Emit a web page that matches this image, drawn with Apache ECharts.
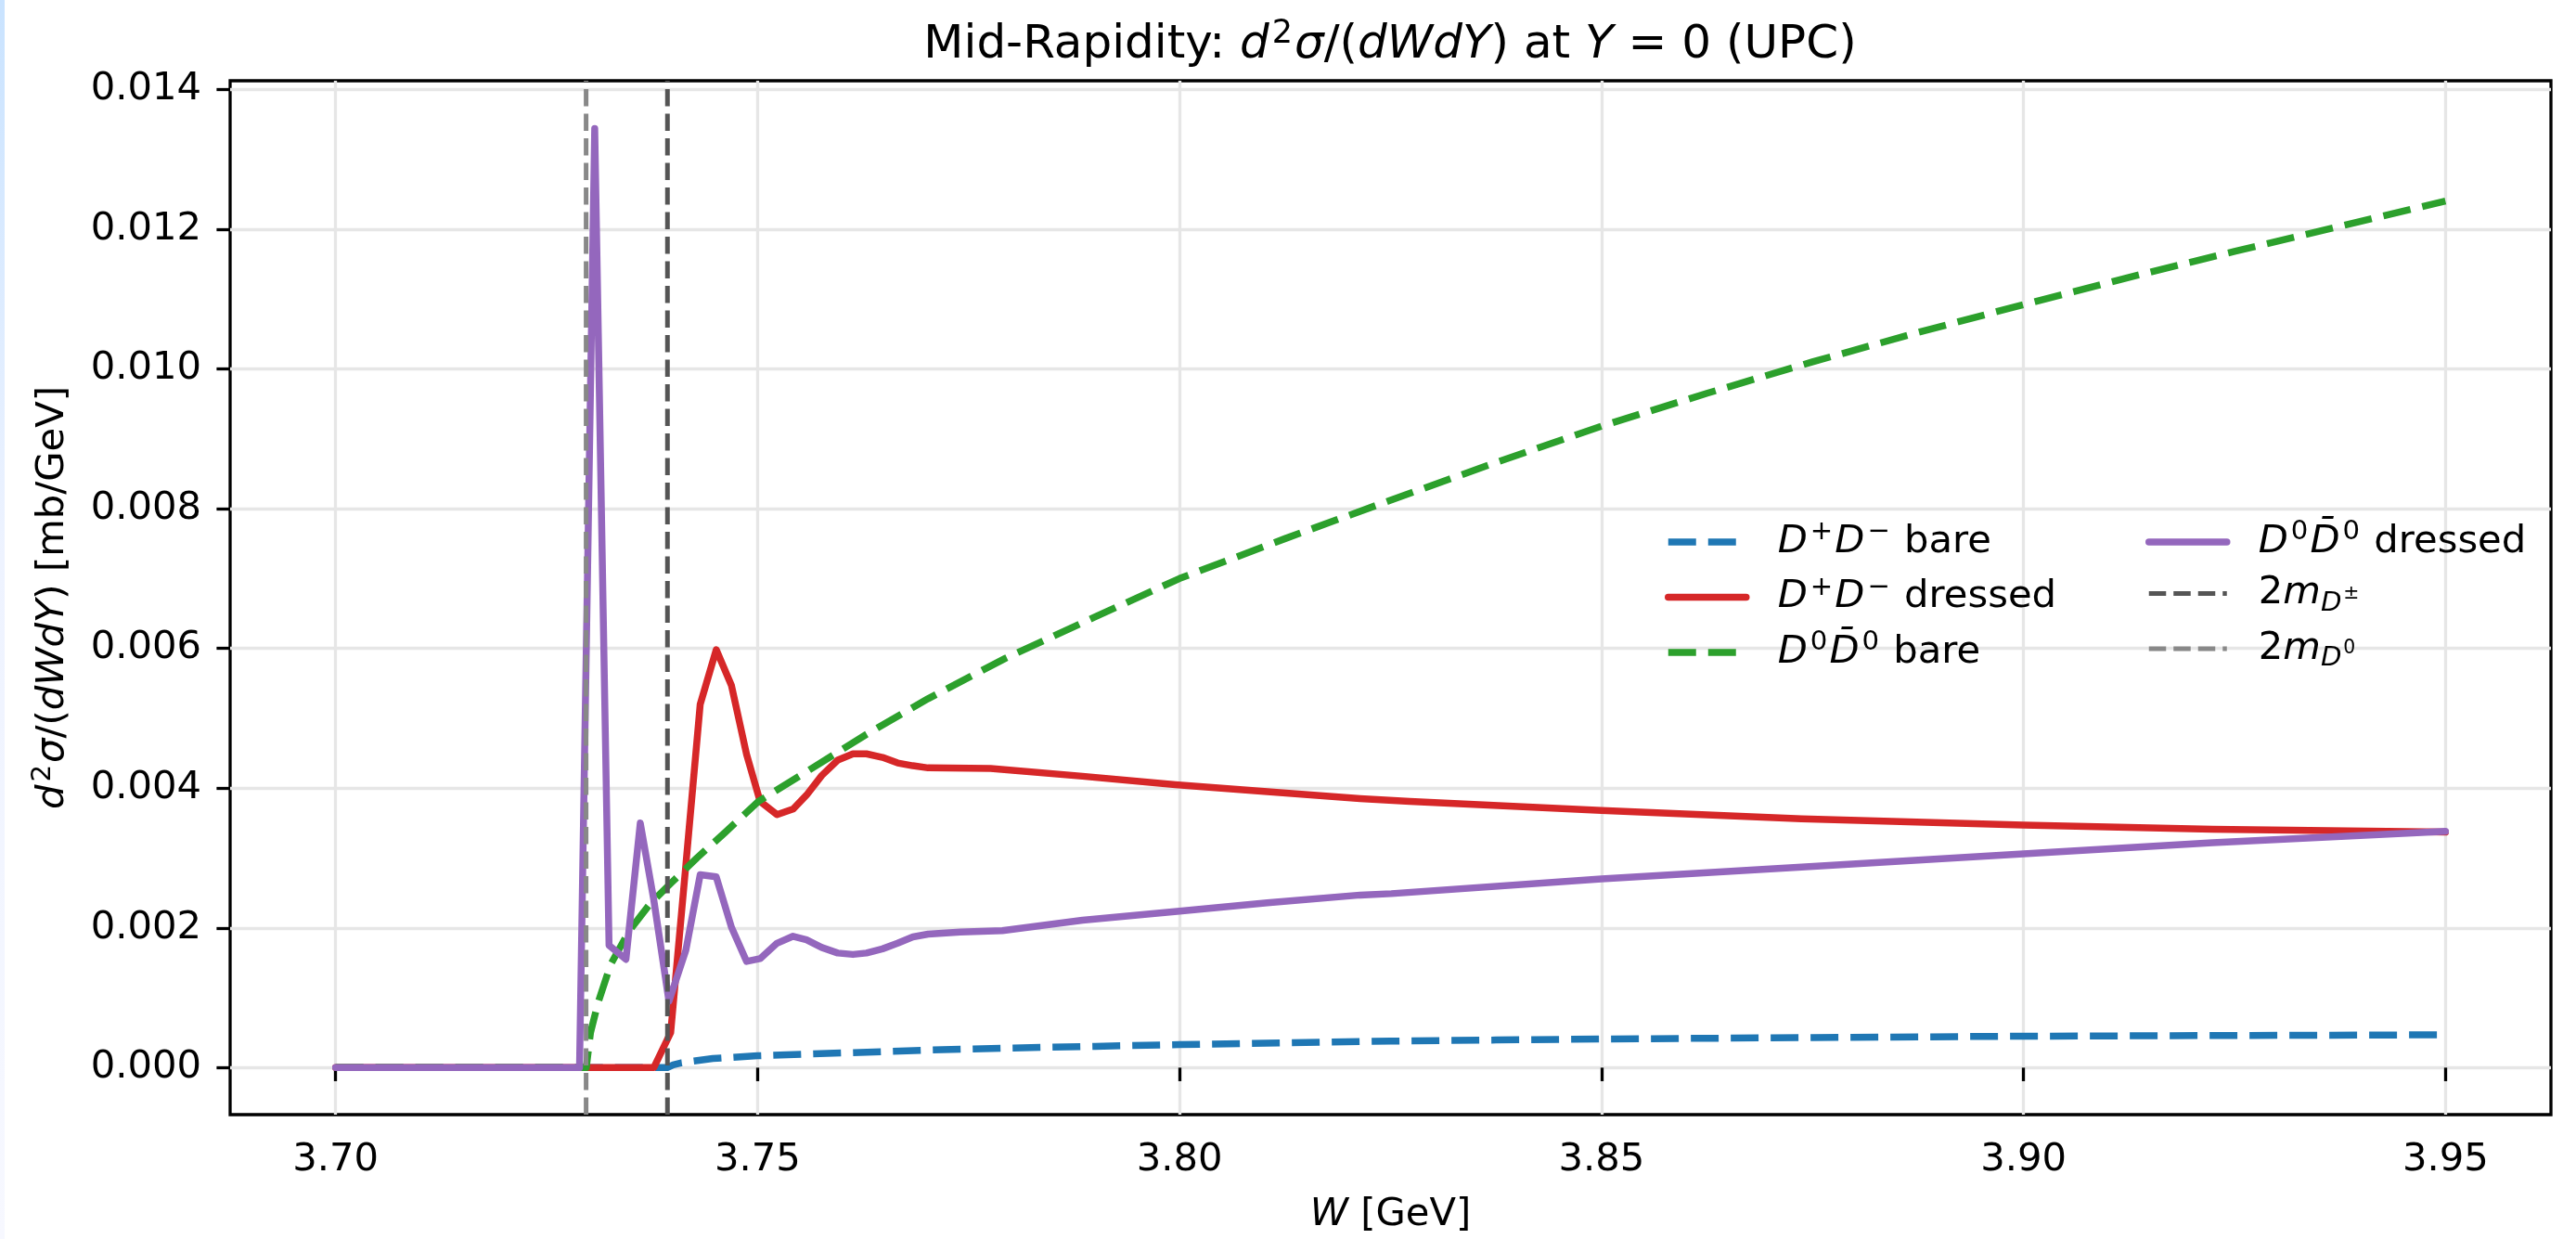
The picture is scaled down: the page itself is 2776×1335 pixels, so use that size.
<!DOCTYPE html>
<html>
<head>
<meta charset="utf-8">
<script src="https://cdn.jsdelivr.net/npm/echarts@6/dist/echarts.min.js"></script>
<style>
html,body{margin:0;padding:0;background:#fff;}
#chart{width:2776px;height:1335px;}
</style>
</head>
<body>
<div id="chart"></div>
<script>
// ---------------- data ----------------
const xTicks = [3.70, 3.75, 3.80, 3.85, 3.90, 3.95];
const yTicks = [0, 0.002, 0.004, 0.006, 0.008, 0.010, 0.012, 0.014];

// thresholds 2 m_D (GeV)
const thrDpm = 3.73932;
const thrD0 = 3.72968;

// D+D- bare  [W (GeV), d2sigma/dWdY (mb/GeV)]
const dpmBare = [
  [3.700,0],[3.7393,0],[3.7400,0.00004],[3.7410,0.00007],[3.7447,0.00013],[3.750,0.00017],
  [3.760,0.00021],[3.770,0.00025],[3.780,0.00028],[3.790,0.000305],[3.800,0.00033],
  [3.8125,0.000355],[3.825,0.00038],[3.8375,0.000395],[3.850,0.00041],[3.875,0.00043],
  [3.900,0.00045],[3.925,0.00046],[3.950,0.00047]
];

// D+D- dressed
const dpmDressed = [
  [3.700,0],[3.7377,0],[3.7397,0.0005],[3.7415,0.0029],[3.7432,0.0052],[3.7451,0.00598],
  [3.7469,0.00547],[3.7487,0.00448],[3.7503,0.00381],[3.7523,0.00362],[3.7542,0.0037],
  [3.7558,0.0039],[3.7576,0.00418],[3.7595,0.0044],[3.7613,0.00449],[3.7629,0.00449],
  [3.7648,0.00444],[3.7666,0.00436],[3.7684,0.00432],[3.7702,0.00429],[3.7776,0.00428],
  [3.7885,0.00417],[3.7995,0.00405],[3.8104,0.00395],[3.8214,0.00385],[3.8273,0.00381],
  [3.850,0.00368],[3.8737,0.00356],[3.900,0.00347],[3.9224,0.00341],[3.950,0.00337]
];

// D0 D0bar bare
const d0Bare = [
  [3.700,0],[3.7297,0],[3.7302,0.0005],[3.7311,0.00093],[3.7326,0.00148],[3.7348,0.00196],
  [3.7373,0.00235],[3.7399,0.00266],[3.7428,0.0030],[3.7461,0.00336],[3.7501,0.00381],
  [3.7556,0.00422],[3.7629,0.00477],[3.7702,0.00528],[3.7794,0.00586],[3.790,0.00645],
  [3.800,0.00700],[3.8125,0.00757],[3.825,0.00812],[3.8375,0.00866],[3.850,0.00918],
  [3.8625,0.00965],[3.875,0.01010],[3.8875,0.01052],[3.900,0.01092],[3.9125,0.01131],
  [3.925,0.01168],[3.9375,0.01204],[3.950,0.01240]
];

// D0 D0bar dressed
const d0Dressed = [
  [3.700,0],[3.7289,0],[3.7307,0.01344],[3.7324,0.00175],[3.7344,0.00155],[3.7361,0.0035],
  [3.7377,0.0024],[3.7395,0.00095],[3.7415,0.00168],[3.7432,0.00276],[3.7451,0.00273],
  [3.7469,0.00201],[3.7487,0.00152],[3.7503,0.00156],[3.7523,0.00178],[3.7542,0.00188],
  [3.7558,0.00183],[3.7576,0.00172],[3.7595,0.00164],[3.7613,0.00162],[3.7629,0.00164],
  [3.7648,0.0017],[3.7666,0.00178],[3.7684,0.00187],[3.7702,0.00191],[3.7740,0.00194],
  [3.7790,0.00196],[3.7885,0.00211],[3.800,0.00224],[3.8104,0.00236],[3.8214,0.00247],
  [3.8251,0.00249],[3.850,0.0027],[3.8737,0.00287],[3.900,0.00306],[3.9224,0.00322],
  [3.950,0.00338]
];

// axis extents (matplotlib-style 5% margins)
const X_MIN = 3.6875, X_MAX = 3.9625;
const Y_MIN = -0.0006725, Y_MAX = 0.0141225;

// ---------------- styling ----------------
const FONT = 'DejaVu Sans';
const FS = 41.7;
const LW = 7.5;
const DASH = [30, 13];
const VDASH = [18.5, 8];
const VLW = 5;

const C_BLUE = '#1f77b4', C_RED = '#d62728', C_GREEN = '#2ca02c', C_PURPLE = '#9467bd';
const C_VDPM = '#555555', C_VD0 = '#888888';

function richSet(fs, lh) {
  return {
    n: {fontFamily: FONT, fontSize: fs, lineHeight: lh, color: '#000'},
    i: {fontFamily: FONT, fontSize: fs, lineHeight: lh, color: '#000', fontStyle: 'italic'},
    sup: {fontFamily: FONT, fontSize: fs * 0.7, lineHeight: lh * 0.5, verticalAlign: 'top', color: '#000', padding: [0, 2, 0, 3]},
    sub: {fontFamily: FONT, fontSize: fs * 0.7, lineHeight: lh * 0.46, verticalAlign: 'bottom', color: '#000', fontStyle: 'italic'},
    ssup: {fontFamily: FONT, fontSize: fs * 0.49, lineHeight: lh * 0.4, verticalAlign: 'middle', color: '#000', padding: [0, 0, 0, 2]},
    g: {width: 29, lineHeight: lh}
  };
}

const names = {
  dpmBare: 'D+D- bare', dpmDressed: 'D+D- dressed', d0Bare: 'D0D0bar bare',
  d0Dressed: 'D0D0bar dressed', vDpm: '2m_D±', vD0: '2m_D0'
};
const legendText = {};
legendText[names.dpmBare] = '{g|}{i|D}{sup|+}{i|D}{sup|\u2212}{n| bare}';
legendText[names.dpmDressed] = '{g|}{i|D}{sup|+}{i|D}{sup|\u2212}{n| dressed}';
legendText[names.d0Bare] = '{g|}{i|D}{sup|0}{i|D\u0304}{sup|0}{n| bare}';
legendText[names.d0Dressed] = '{g|}{i|D}{sup|0}{i|D\u0304}{sup|0}{n| dressed}';
legendText[names.vDpm] = '{g|}{n|2}{i|m}{sub|D}{ssup|\u00b1}';
legendText[names.vD0] = '{g|}{n|2}{i|m}{sub|D}{ssup|0}';

function lineSeries(name, data, color, dash, width, cap) {
  return {
    name: name, type: 'line', data: data, symbol: 'none', showSymbol: false,
    animation: false, clip: true,
    lineStyle: {color: color, width: width, type: dash || 'solid', cap: cap || 'butt', join: 'round'},
    itemStyle: {color: color},
    emphasis: {disabled: true}
  };
}

function legendItem(name, color, dash, width) {
  return {name: name, lineStyle: {color: color, width: width, type: dash || 'solid'}, itemStyle: {opacity: 0}};
}

const legendCommon = {
  orient: 'vertical', padding: 0, itemWidth: 84, itemHeight: 50, itemGap: 13.5,
  top: 559, selectedMode: false,
  formatter: function (n) { return legendText[n]; },
  textStyle: {fontFamily: FONT, fontSize: FS, color: '#000', rich: richSet(FS, 50)}
};

const chart = echarts.init(document.getElementById('chart'), null, {renderer: 'canvas'});
chart.setOption({
  backgroundColor: '#ffffff',
  animation: false,
  graphic: [{
    type: 'rect', left: 0, top: 0, z: 100,
    shape: {x: 0, y: 0, width: 5, height: 1335},
    style: {fill: new echarts.graphic.LinearGradient(0, 0, 0, 1, [
      {offset: 0, color: '#c9e3ff'}, {offset: 0.45, color: '#eef3ff'}, {offset: 1, color: '#f7f8ff'}
    ])}
  }],
  title: {
    text: '{n|Mid-Rapidity: }{i|d}{sup|2}{i|\u03c3}{n|/(}{i|dWdY}{n|) at }{i|Y}{n| = 0 (UPC)}',
    left: 1498, top: 19, textAlign: 'center', padding: 0,
    textStyle: {fontFamily: FONT, fontSize: 50, fontWeight: 'normal', color: '#000', rich: richSet(50, 60)}
  },
  grid: {
    left: 248, right: 27, top: 87, bottom: 126, show: true,
    borderColor: '#000', borderWidth: 3.3, backgroundColor: 'transparent', containLabel: false
  },
  legend: [
    Object.assign({}, legendCommon, {left: 1794, data: [
      legendItem(names.dpmBare, C_BLUE, DASH, LW),
      legendItem(names.dpmDressed, C_RED, null, LW),
      legendItem(names.d0Bare, C_GREEN, DASH, LW)
    ]}),
    Object.assign({}, legendCommon, {left: 2312, data: [
      legendItem(names.d0Dressed, C_PURPLE, null, LW),
      legendItem(names.vDpm, C_VDPM, VDASH, VLW),
      legendItem(names.vD0, C_VD0, VDASH, VLW)
    ]})
  ],
  xAxis: {
    type: 'value', min: X_MIN, max: X_MAX,
    name: '{i|W}{n| [GeV]}', nameLocation: 'middle', nameGap: 83,
    nameTextStyle: {fontFamily: FONT, fontSize: FS, color: '#000', rich: richSet(FS, 50)},
    axisLine: {show: false},
    axisTick: {show: true, inside: false, length: 14.6, customValues: xTicks, lineStyle: {color: '#000', width: 3.3}},
    axisLabel: {show: true, customValues: xTicks, margin: 28, fontFamily: FONT, fontSize: FS, color: '#000',
      formatter: function (v) { return v.toFixed(2); }},
    splitLine: {show: true, lineStyle: {color: '#e6e6e6', width: 3.3}}
  },
  yAxis: {
    type: 'value', min: Y_MIN, max: Y_MAX,
    name: '{i|d}{sup|2}{i|\u03c3}{n|/(}{i|dWdY}{n|) [mb/GeV]}', nameLocation: 'middle', nameGap: 166, nameRotate: 90,
    nameTextStyle: {fontFamily: FONT, fontSize: FS, color: '#000', rich: richSet(FS, 50)},
    axisLine: {show: false},
    axisTick: {show: true, inside: false, length: 14.6, customValues: yTicks, lineStyle: {color: '#000', width: 3.3}},
    axisLabel: {show: true, customValues: yTicks, margin: 31, fontFamily: FONT, fontSize: FS, color: '#000',
      formatter: function (v) { return v.toFixed(3); }},
    splitLine: {show: true, lineStyle: {color: '#e6e6e6', width: 3.3}}
  },
  series: [
    lineSeries(names.dpmBare, dpmBare, C_BLUE, DASH, LW),
    lineSeries(names.dpmDressed, dpmDressed, C_RED, null, LW, 'round'),
    lineSeries(names.d0Bare, d0Bare, C_GREEN, DASH, LW),
    lineSeries(names.d0Dressed, d0Dressed, C_PURPLE, null, LW, 'round'),
    lineSeries(names.vDpm, [[thrDpm, Y_MIN], [thrDpm, Y_MAX]], C_VDPM, VDASH, VLW),
    lineSeries(names.vD0, [[thrD0, Y_MIN], [thrD0, Y_MAX]], C_VD0, VDASH, VLW)
  ]
});
</script>
</body>
</html>
